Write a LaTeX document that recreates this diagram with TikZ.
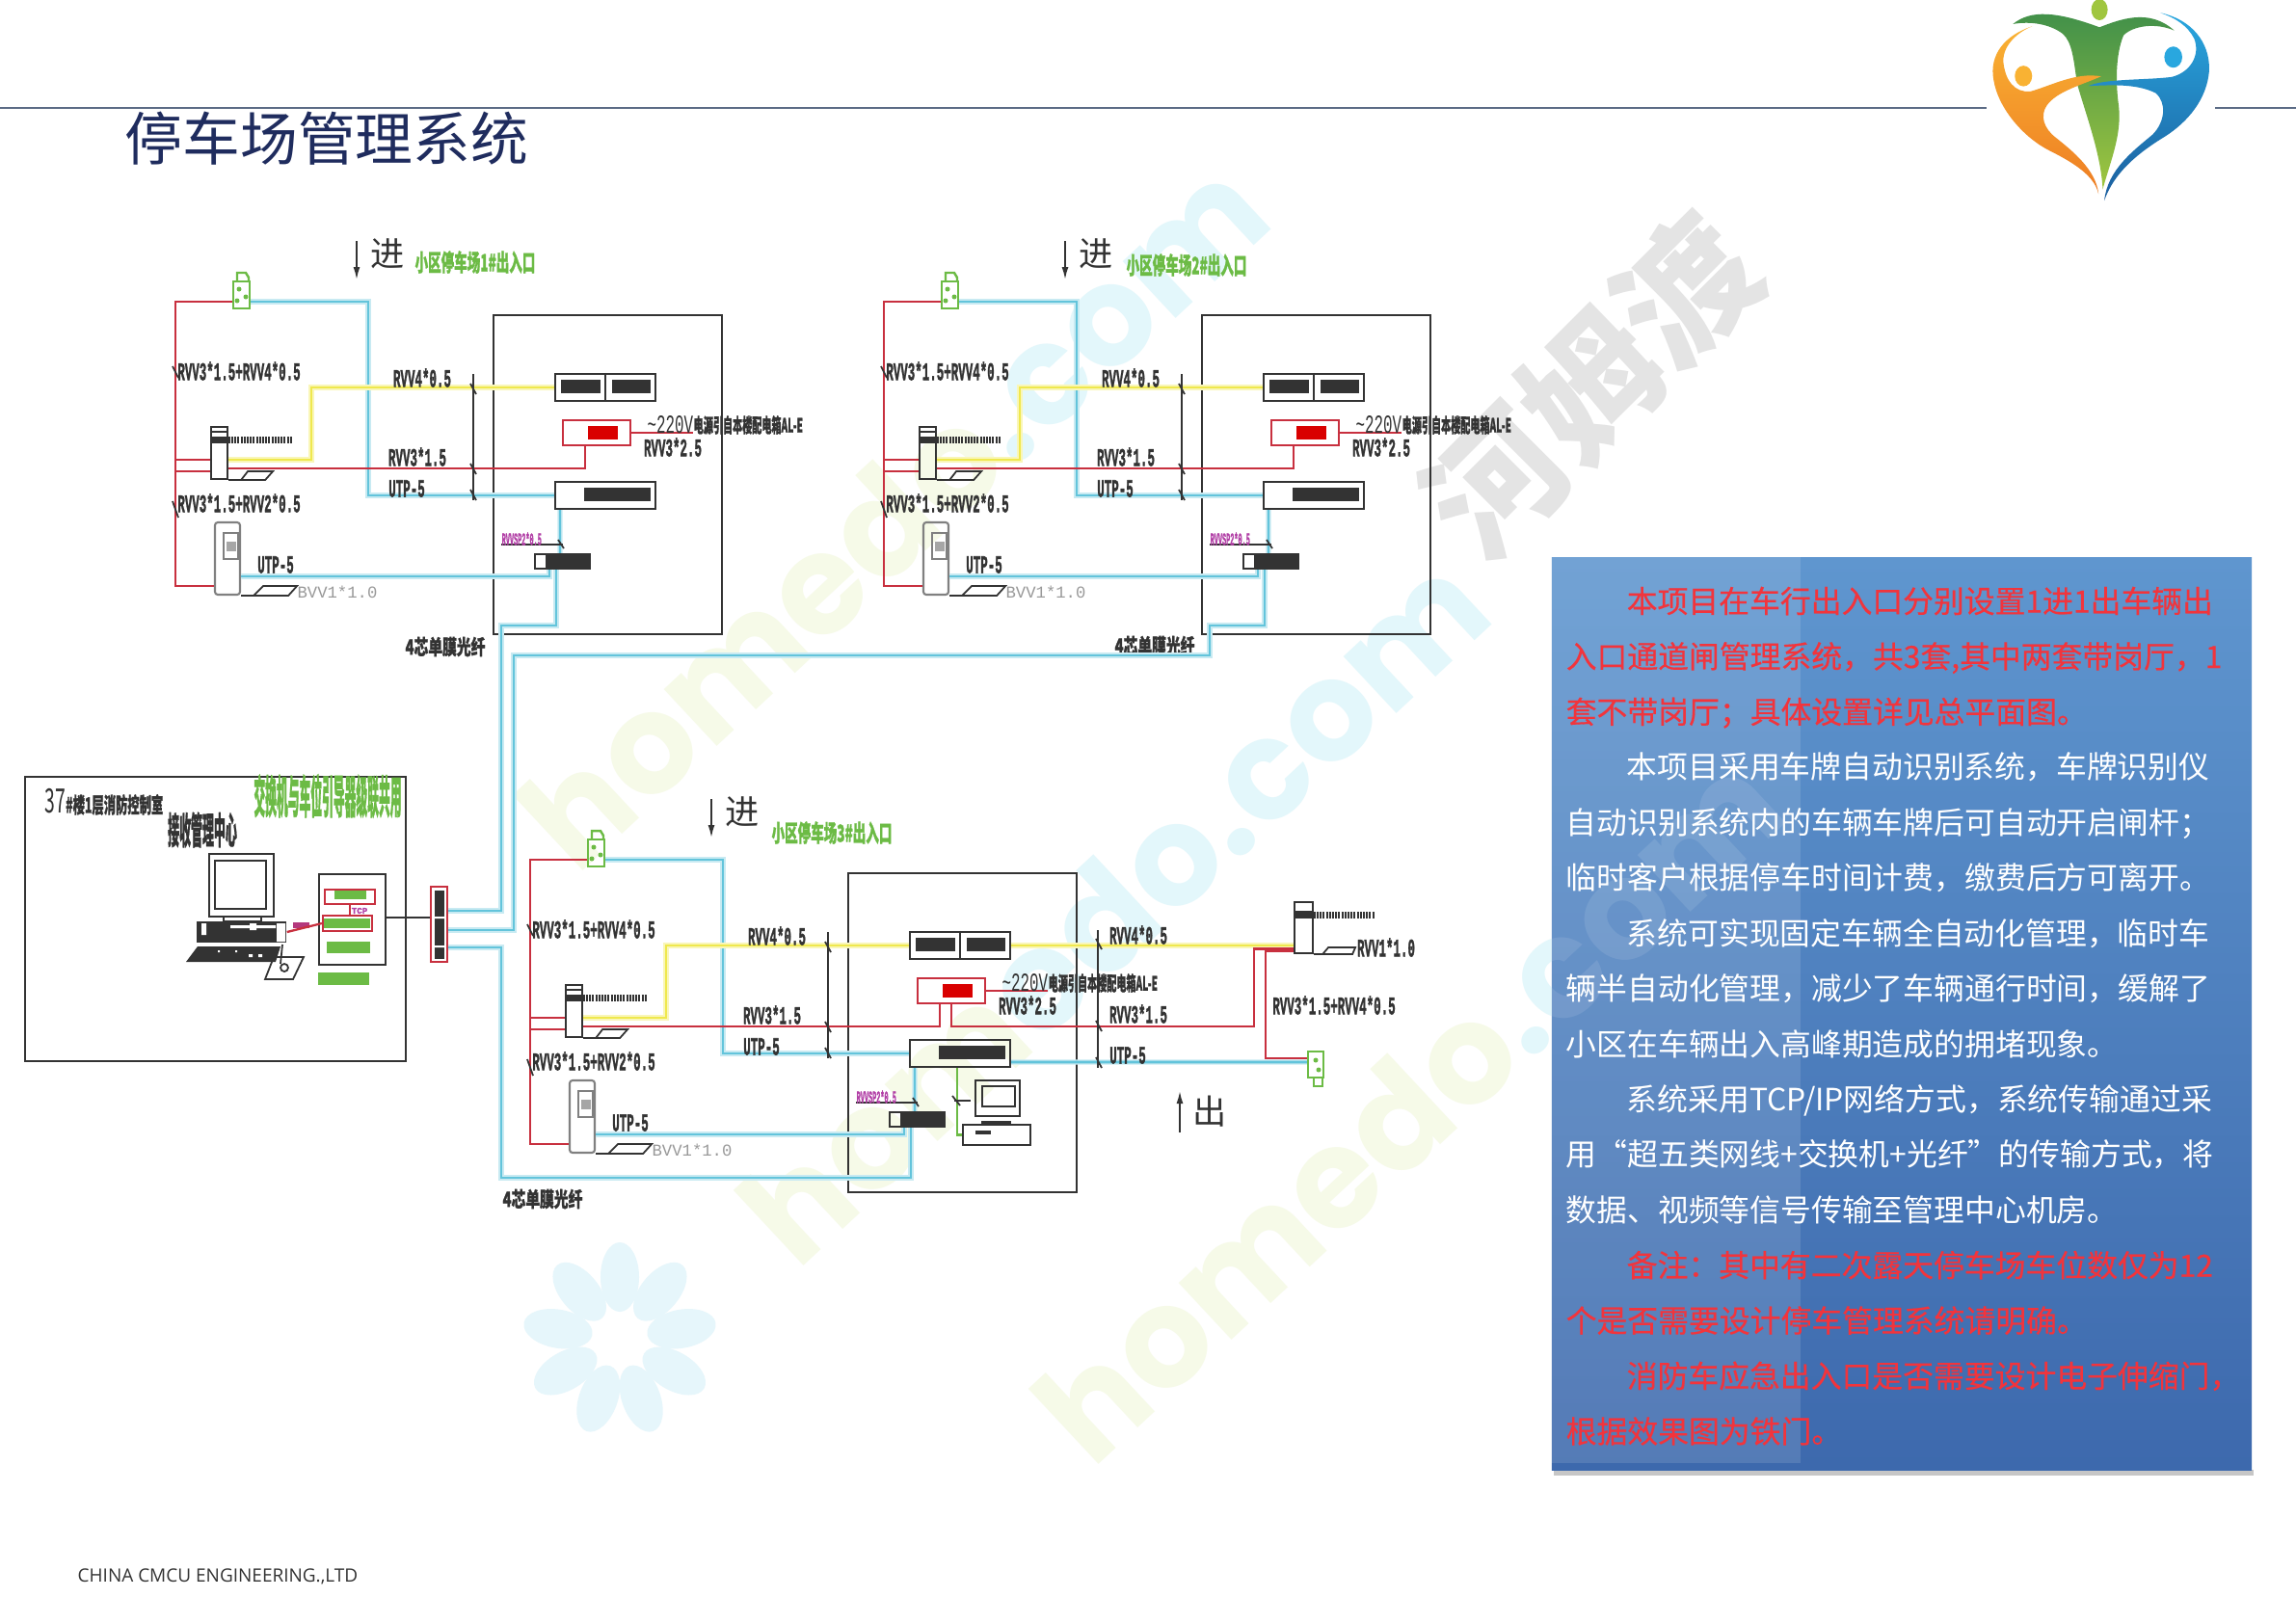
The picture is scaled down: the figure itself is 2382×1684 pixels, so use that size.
\documentclass[tikz,border=0pt]{standalone}
\usepackage{fontspec}
\newfontfamily\cjk{Noto Sans CJK SC}[BoldFeatures={FakeBold=1.5}]
\newfontfamily\cjkplain{Noto Sans CJK SC}
\newfontfamily\cjkred{Noto Sans CJK SC}[FakeBold=.4]
\newfontfamily\cadfont{Liberation Mono}[BoldFeatures={FakeBold=2}]
\newfontfamily\markfont{Poppins}
\newfontfamily\footfont{Open Sans}
\usetikzlibrary{calc,arrows.meta,positioning,shapes.geometric}
\definecolor{darkline}{HTML}{333333}
\definecolor{redline}{HTML}{C8303F}
\definecolor{blueline}{HTML}{63C4DB}
\definecolor{yellowline}{HTML}{EFE84E}
\definecolor{greenline}{HTML}{6CBB45}
\definecolor{pinkline}{HTML}{B23FA6}
\definecolor{navytext}{HTML}{1F2C5E}
\definecolor{rulecol}{HTML}{5B6B85}
\definecolor{notered}{HTML}{F2343C}
\definecolor{wmgreen}{HTML}{F6FAE8}
\definecolor{wmcyan}{HTML}{E3F7FB}
\definecolor{wmgrey}{HTML}{E4E4E4}
\definecolor{wmblue}{HTML}{E6F6FB}
\definecolor{paneltop}{HTML}{5F96CF}
\definecolor{panelend}{HTML}{3D69AD}
\definecolor{logogreenA}{HTML}{3F8F4A}
\definecolor{logogreenB}{HTML}{A0C63F}
\definecolor{logoorangeA}{HTML}{F9B233}
\definecolor{logoorangeB}{HTML}{EE7D23}
\definecolor{logoblueA}{HTML}{29A7DF}
\definecolor{logoblueB}{HTML}{1B5E9E}

\begin{document}
\begin{tikzpicture}[x=0.01cm, y=-0.01cm, >=Latex, line/.style={line width=.6pt}]
% Define styles for boxes, wires and labels
\tikzstyle{devicebox} = [draw=darkline, rectangle, inner sep=0, line width=.6pt]
\tikzstyle{blackbar} = [fill=darkline, rectangle, inner sep=0]
\tikzstyle{redbox} = [draw=redline, rectangle, inner sep=0, line width=.6pt]
\tikzstyle{redfill} = [fill=red!85!black, rectangle, inner sep=0]
\tikzstyle{greenfill} = [fill=greenline, rectangle, inner sep=0]
\tikzstyle{greybox} = [draw=gray, rectangle, inner sep=0, line width=.5pt]
\tikzstyle{redwire} = [draw=redline, line width=.65pt]
\tikzstyle{bluewire} = [draw=blueline, line width=.8pt, preaction={draw=blueline!35, line width=1.5pt}]
\tikzstyle{yellowwire} = [draw=yellowline, line width=.8pt, preaction={draw=yellowline!40, line width=1.5pt}]
\tikzstyle{greenwire} = [draw=greenline, line width=.65pt]
\tikzstyle{cable} = [draw=darkline, line width=.5pt]
\tikzstyle{cadlabel} = [font=\cadfont\bfseries\fontsize{3.55}{4}\selectfont, text=darkline, inner sep=0, transform shape, yscale=2.1]
\tikzstyle{cjklabel} = [font=\cjk\bfseries\fontsize{4.2}{5}\selectfont, text=darkline, inner sep=0, transform shape, yscale=1.45]
\tikzstyle{greenlabel} = [font=\cjk\bfseries\fontsize{3.85}{5}\selectfont, text=greenline, inner sep=0, transform shape, yscale=1.8]
\tikzstyle{pinklabel} = [font=\cadfont\bfseries\fontsize{1.95}{3}\selectfont, text=pinkline, inner sep=0, transform shape, yscale=2.6]
\tikzstyle{greylabel} = [font=\cadfont\fontsize{4.9}{5}\selectfont, text=gray!80, inner sep=0]
\tikzstyle{dirlabel} = [font=\cjkplain\fontsize{10}{10}\selectfont, text=darkline, inner sep=0]
\tikzstyle{watermark} = [font=\markfont\bfseries\fontsize{41}{44}\selectfont, inner sep=0, rotate=43]

\useasboundingbox (0,0) rectangle (2382,1684);
\fill[white] (0,0) rectangle (2382,1684);

% Watermarks behind everything
\node [watermark] (markone) at (926,532) {\color{wmgreen}homedo\color{wmcyan}.com};
\node [watermark] (marktwo) at (1155,942) {\color{wmgreen}hom\color{wmcyan}edo.com};
\node [watermark] (markthree) at (1460,1148) {\color{wmgreen}homedo\color{wmcyan}.com};
\node [font=\cjkplain\bfseries\fontsize{40}{40}\selectfont, text=wmgrey, inner sep=0, rotate=45] (markname) at (1650,400) {河姆渡};
\foreach \a in {0,40,...,320}
  \fill[wmblue, rotate around={\a:(643,1390)}] (643,1325) ellipse [x radius=.20cm, y radius=.36cm];

% Header
\coordinate (ruleA) at (0,112);
\coordinate (ruleB) at (2061,112);
\coordinate (ruleC) at (2298,112);
\coordinate (ruleD) at (2382,112);
\draw[rulecol, line width=.5pt] (ruleA) -- (ruleB);
\draw[rulecol, line width=.5pt] (ruleC) -- (ruleD);
\node [font=\cjkplain\fontsize{17}{17}\selectfont, text=navytext, anchor=west, inner sep=0] (title) at (129,144) {停车场管理系统};

% Logo
\begin{scope}[shift={(2040,0)}, x=0.00333cm, y=-0.00333cm]
\shade[top color=logogreenA, bottom color=logogreenB] (145,75) .. controls (200,30) and (280,35) .. (415,85) .. controls (480,60) and (570,25) .. (648,95) .. controls (590,70) and (520,80) .. (490,110) .. controls (465,170) and (465,260) .. (475,330) .. controls (485,420) and (450,500) .. (425,590) .. controls (420,480) and (370,350) .. (345,260) .. controls (335,190) and (330,130) .. (300,105) .. controls (260,75) and (200,65) .. (145,75);
\fill[logogreenB] (415,30) ellipse [x radius=.085cm, y radius=.11cm];
\shade[top color=logoorangeA, bottom color=logoorangeB] (205,82) .. controls (120,110) and (70,170) .. (85,250) .. controls (100,340) and (180,430) .. (260,470) .. controls (340,510) and (400,550) .. (412,605) .. controls (405,530) and (330,470) .. (280,430) .. controls (240,400) and (230,360) .. (250,330) .. controls (280,285) and (360,265) .. (420,238) .. controls (340,225) and (270,265) .. (200,285) .. controls (150,290) and (120,250) .. (115,190) .. controls (115,140) and (160,100) .. (205,82);
\fill[logoorangeA] (178,237) ellipse [x radius=.09cm, y radius=.107cm];
\shade[top color=logoblueA, bottom color=logoblueB] (605,40) .. controls (700,60) and (760,130) .. (757,220) .. controls (750,310) and (690,380) .. (620,425) .. controls (530,480) and (460,540) .. (430,625) .. controls (440,530) and (520,470) .. (580,420) .. controls (620,380) and (625,320) .. (590,290) .. controls (530,260) and (450,265) .. (380,268) .. controls (430,245) and (560,250) .. (640,240) .. controls (700,225) and (730,170) .. (710,120) .. controls (690,80) and (650,55) .. (605,40);
\fill[logoblueA] (645,178) ellipse [x radius=.093cm, y radius=.11cm];
\end{scope}

% Notes panel
\fill[gray!45] (1612,1525) rectangle (2338,1531);
\node [rectangle, inner sep=0, minimum width=7.26cm, minimum height=9.46cm, top color=paneltop, bottom color=panelend] (panel) at (1973,1052) {};
\begin{scope}
\clip (panel.north west) rectangle (panel.south east);
\node [watermark, text=white, opacity=.10] (markpanel) at (1460,1148) {homedo.com};
\end{scope}
\coordinate (bandend) at (1868,1518);
\fill[white, opacity=.12] (panel.north west) rectangle (bandend);
\node [font=\cjkplain\fontsize{9.05}{16.33}\selectfont, text=white, anchor=north west, align=left, inner sep=0] (notes) at (1624,608) {%
\color{notered}\cjkred\hspace*{.63cm}本项目在车行出入口分别设置1进1出车辆出\\
\color{notered}\cjkred 入口通道闸管理系统，共3套,其中两套带岗厅，1\\
\color{notered}\cjkred 套不带岗厅；具体设置详见总平面图。\\
\hspace*{.63cm}本项目采用车牌自动识别系统，车牌识别仪\\
自动识别系统内的车辆车牌后可自动开启闸杆；\\
临时客户根据停车时间计费，缴费后方可离开。\\
\hspace*{.63cm}系统可实现固定车辆全自动化管理，临时车\\
辆半自动化管理，减少了车辆通行时间，缓解了\\
小区在车辆出入高峰期造成的拥堵现象。\\
\hspace*{.63cm}系统采用TCP/IP网络方式，系统传输通过采\\
用“超五类网线+交换机+光纤”的传输方式，将\\
数据、视频等信号传输至管理中心机房。\\
\color{notered}\cjkred\hspace*{.63cm}备注：其中有二次露天停车场车位数仅为12\\
\color{notered}\cjkred 个是否需要设计停车管理系统请明确。\\
\color{notered}\cjkred\hspace*{.63cm}消防车应急出入口是否需要设计电子伸缩门，\\
\color{notered}\cjkred 根据效果图为铁门。};

% Footer
\node [font=\footfont\fontsize{5.4}{6}\selectfont, text=darkline, anchor=west, inner sep=0] (footer) at (80,1636) {CHINA CMCU ENGINEERING.,LTD};

% The three gates
\foreach \s/\dx/\dy in {a/0/0,b/735/0,c/368/579} {
\begin{scope}[shift={(\dx,\dy)}]
% Nodes placement
\node [devicebox, minimum width=2.37cm, minimum height=3.31cm] (booth\s) at (630.5,492.5) {};
\node [devicebox, minimum width=1.04cm, minimum height=.28cm] (screen\s) at (628,402) {};
\node [blackbar, minimum width=.41cm, minimum height=.14cm] (screenL\s) at (602.5,401) {};
\node [blackbar, minimum width=.40cm, minimum height=.14cm] (screenR\s) at (655,401) {};
\node [redbox, minimum width=.70cm, minimum height=.26cm] (power\s) at (619,449) {};
\node [redfill, minimum width=.31cm, minimum height=.14cm] (powerlamp\s) at (625.5,449) {};
\node [devicebox, minimum width=1.04cm, minimum height=.28cm] (switch\s) at (628,514) {};
\node [blackbar, minimum width=.69cm, minimum height=.14cm] (switchbar\s) at (640.5,513) {};
\node [devicebox, minimum width=.57cm, minimum height=.15cm] (reader\s) at (583.5,582.5) {};
\node [blackbar, minimum width=.46cm, minimum height=.15cm] (readerbar\s) at (589,582.5) {};

\node [devicebox, minimum width=.17cm, minimum height=.54cm] (post\s) at (227.5,470) {};
\node [blackbar, minimum width=.17cm, minimum height=.07cm] (band\s) at (227.5,456.5) {};
\node [devicebox, minimum width=.17cm, minimum height=.05cm] (cap\s) at (227.5,445.5) {};
\node [devicebox, draw=gray, rounded corners=.03cm, minimum width=.26cm, minimum height=.75cm] (kiosk\s) at (236,579.5) {};
\node [greybox, minimum width=.15cm, minimum height=.27cm] (kioskpanel\s) at (239.5,566.5) {};
\node [blackbar, fill=gray!70, minimum width=.10cm, minimum height=.10cm] (kioskscreen\s) at (240,567) {};
\node [draw=greenline, line width=.7pt, rectangle, inner sep=0, minimum width=.17cm, minimum height=.28cm] (light\s) at (250.5,306) {};

% Hand drawn parts of the devices
\draw[cable] (screen\s.north) -- (screen\s.south);
\draw[darkline, line width=.07cm, dash pattern=on .02cm off .012cm] (band\s.east) -- ++(66,0);
\draw[cable] (post\s.south east) -- ++(13,0) -- ++(25,0) -- ++(8,-9) -- ++(-26,0) -- ++(-7,9);
\draw[cable] (kiosk\s.south east) -- ++(13,0) -- ++(36,0) -- ++(9,-10) -- ++(-35,0) -- ++(-10,10);
\draw[greenline, line width=.7pt] (246,292) -- (246,283) -- (255,283) -- (258,288) -- (258,292);
\fill[greenline] (248,300) circle (.025cm) (246,312) circle (.025cm) (255,308) circle (.025cm);

% Bends of the wires
\coordinate (rail\s) at (182,400);
\coordinate (trunk\s) at (382,400);
\coordinate (riser\s) at (323,440);
\coordinate (mains\s) at (719,449);
\coordinate (bundletop\s) at (491,388);
\coordinate (bundleend\s) at (491,519);
\coordinate (pinkend\s) at (520,565);
\coordinate (pinktick\s) at (584,565);

% Draw edges
\draw[bluewire] ([yshift=-.07cm]light\s.east) -| (trunk\s) |- (switch\s.west);
\draw[yellowwire] ([yshift=-.07cm]post\s.east) -| (riser\s) |- (screen\s.west);
\draw[redwire] ([yshift=-.07cm]light\s.west) -| (rail\s) |- ([yshift=-.07cm]post\s.west);
\draw[redwire] ([yshift=-.19cm]post\s.west) -| (rail\s) |- ([yshift=-.285cm]kiosk\s.west);
\draw[redwire] ([yshift=-.16cm]post\s.east) -| ([xshift=-.12cm]power\s.south);
\draw[redwire] (power\s.east) -- (mains\s);
\draw[bluewire] ([yshift=-.185cm]kiosk\s.east) -| ([xshift=-.135cm]reader\s.south);
\draw[bluewire, line width=.6pt] ([xshift=-.47cm]switch\s.south) -- ([xshift=-.025cm]reader\s.north);
\draw[cable] (bundletop\s) -- (bundleend\s);
\foreach \y in {403,486,513}
  \draw[cable] (488,\y-5) -- (494,\y+6);
\draw[cable] (179,380) -- (185,392);
\draw[cable] (179,520) -- (185,537);
\draw[cable] (pinkend\s) -- (pinktick\s);
\draw[cable] (579,560) -- (585,569);

% Labels
\node [cadlabel] (railtop\s) at (248,385) {RVV3*1.5+RVV4*0.5};
\node [cadlabel] (railend\s) at (248,522) {RVV3*1.5+RVV2*0.5};
\node [cadlabel] (wireY\s) at (438,392) {RVV4*0.5};
\node [cadlabel] (wireR\s) at (433,474) {RVV3*1.5};
\node [cadlabel] (wireB\s) at (422,507) {UTP-5};
\node [cadlabel] (kioskutp\s) at (286,586) {UTP-5};
\node [cadlabel] (mainslabel\s) at (698,464) {RVV3*2.5};
\node [greylabel] (loopV\s) at (350,614) {BVV1*1.0};
\node [pinklabel, anchor=west] (pink\s) at (520,559) {RVVSP2*0.5};
\node [font=\cadfont\fontsize{4.5}{6}\selectfont, text=darkline, inner sep=0, anchor=west, transform shape, yscale=1.7] (acvolt\s) at (671,441) {\textasciitilde220V};
\node [font=\cjk\bfseries\fontsize{2.87}{4}\selectfont, text=darkline, inner sep=0, anchor=west, transform shape, yscale=2] (acnote\s) at (719,441) {电源引自本楼配电箱AL-E};
% Direction of travel
\coordinate (dirtop\s) at (370,250);
\coordinate (dirend\s) at (370,290);
\draw[cable, -{Latex[length=.13cm,width=.07cm]}] (dirtop\s) -- (dirend\s);
\node [dirlabel] (dir\s) at (402,263) {进};
\end{scope}
}

% Labels placed per gate
\node [greenlabel] (namea) at (493,272) {小区停车场1\#出入口};
\node [greenlabel] (nameb) at (1231,275) {小区停车场2\#出入口};
\node [greenlabel] (namec) at (863,864) {小区停车场3\#出入口};
\node [cjklabel] (fibrea) at (462,671) {4芯单膜光纤};
\node [cjklabel] (fibreb) at (1198,670) {4芯单膜光纤};
\node [cjklabel] (fibrec) at (563,1244) {4芯单膜光纤};

% Control room
\node [devicebox, minimum width=3.95cm, minimum height=2.95cm] (room) at (223.5,953.5) {};
\node [font=\cjk\bfseries\fontsize{3.5}{5}\selectfont, text=darkline, inner sep=0, transform shape, yscale=1.8] (roomname) at (108,832) {{\cjkplain\mdseries\fontsize{5.5}{5}\selectfont 37}\#楼1层消防控制室};
\node [cjklabel, font=\cjk\bfseries\fontsize{3.4}{6}\selectfont, yscale=2.2] (center) at (210,861) {接收管理中心};
\node [greenlabel, font=\cjk\bfseries\fontsize{3.35}{6}\selectfont, yscale=2.2] (stacknote) at (340,826) {交换机与车位引导器级联共用};

\node [devicebox, minimum width=.67cm, minimum height=.65cm] (monitor) at (250.5,918.5) {};
\node [devicebox, minimum width=.53cm, minimum height=.50cm] (monitorglass) at (249.5,918) {};
\node [devicebox, minimum width=.39cm, minimum height=.05cm] (monitorstand) at (251.5,953.5) {};
\node [blackbar, minimum width=.93cm, minimum height=.22cm] (pccase) at (250.5,967) {};
\fill[white] (209,958) rectangle (214,970) (239,960) rectangle (286,963) (259,958) rectangle (266,965) (287,958) rectangle (296,977);
\fill[darkline] (205,982) -- (291,982) -- (286,998) -- (193,998) -- cycle;
\fill[white] (226,986) rectangle (228,988) (244,986) rectangle (246,988) (258,990) rectangle (262,993) (268,990) rectangle (272,993);
\draw[cable] (284,993) -- (315,993) -- (304,1016) -- (275,1016) -- cycle;
\draw[cable] (295,1004) circle (.04cm);
\draw[cable] (293,980) -- (291,1000);

\node [devicebox, minimum width=.69cm, minimum height=.94cm] (rack) at (365.5,954) {};
\node [redbox, minimum width=.52cm, minimum height=.15cm] (rackA) at (363,930.5) {};
\node [greenfill, minimum width=.33cm, minimum height=.09cm] (rackAfill) at (363.5,928.5) {};
\node [redbox, minimum width=.51cm, minimum height=.16cm] (rackB) at (360.5,958) {};
\node [greenfill, minimum width=.48cm, minimum height=.10cm] (rackBfill) at (360,958) {};
\node [greenfill, minimum width=.45cm, minimum height=.12cm] (rackC) at (361.5,983) {};
\node [greenfill, minimum width=.53cm, minimum height=.13cm] (rackD) at (356.5,1015.5) {};
\node [font=\cadfont\bfseries\fontsize{2.6}{3}\selectfont, text=pinkline, inner sep=0] (rackTag) at (373,945) {TCP};
\node [fill=magenta!70!black, rectangle, inner sep=0, minimum width=.17cm, minimum height=.06cm] (modem) at (312.5,960) {};

\draw[redwire] (pccase.east) -- (rackB.west);
\draw[redwire] (rackA.south) -- (rackA.south |- rackB.north);

\node [redbox, minimum width=.17cm, minimum height=.78cm] (core) at (455.5,959) {};
\node [blackbar, minimum width=.10cm, minimum height=.71cm] (coreinner) at (456,959.5) {};
\fill[white] (451,951) rectangle (461,953) (451,981) rectangle (461,983);
\draw[cable] ([yshift=.02cm]rack.east) -- ([yshift=.07cm]core.west);

% Fibre from the gates back to the core switch
\coordinate (fibreA) at (520,649);
\coordinate (fibreB) at (533,680);
\coordinate (fibreC) at (1255,649);
\coordinate (fibreD) at (520,1222);
\draw[bluewire] ([yshift=.14cm]core.east) -| (fibreA) -| ([xshift=-.065cm]readera.south);
\draw[bluewire] ([yshift=-.06cm]core.east) -| (fibreB) -| (fibreC) -| ([xshift=-.065cm]readerb.south);
\draw[bluewire] ([yshift=-.24cm]core.east) -| (fibreD) -| ([xshift=-.065cm]readerc.south);

% Exit side of gate c
\node [devicebox, minimum width=.19cm, minimum height=.53cm] (exitpost) at (1352.5,962.5) {};
\node [blackbar, minimum width=.19cm, minimum height=.08cm] (exitband) at (1352.5,949) {};
\node [draw=greenline, line width=.7pt, rectangle, inner sep=0, minimum width=.16cm, minimum height=.27cm] (exitlight) at (1365,1104.5) {};
\draw[greenline, line width=.7pt] (1363,1118) -- (1363,1127) -- (1372,1127) -- (1372,1118);
\fill[greenline] (1365,1100) circle (.025cm) (1368,1110) circle (.025cm);
\draw[darkline, line width=.07cm, dash pattern=on .02cm off .012cm] (exitband.east) -- ++(64,0);
\draw[cable] (exitpost.south east) -- ++(9,0) -- ++(31,0) -- ++(3,-7) -- ++(-28,0) -- ++(-6,7);

\coordinate (exitrail) at (1301,1065);
\coordinate (exitdrop) at (1313,1050);
\coordinate (exittop) at (1139,965);
\coordinate (exitend) at (1139,1108);
\draw[yellowwire] (screenc.east) -- (exitpost.west |- screenc.east);
\draw[redwire] (powerc.south) |- (exitrail) |- ([yshift=-.22cm]exitpost.west);
\draw[redwire] ([yshift=-.24cm]exitpost.west) -| (exitdrop) |- ([yshift=.065cm]exitlight.west);
\draw[bluewire] ([yshift=-.09cm]switchc.east) -- ([yshift=.025cm]exitlight.west);
\draw[cable] (exittop) -- (exitend);
\foreach \y in {979,1064,1102}
  \draw[cable] (1137,\y-5) -- (1143,\y+6);

\node [cadlabel] (exitY) at (1181,970) {RVV4*0.5};
\node [cadlabel] (exitR) at (1181,1052) {RVV3*1.5};
\node [cadlabel] (exitB) at (1170,1095) {UTP-5};
\node [cadlabel] (exitV) at (1438,983) {RVV1*1.0};
\node [cadlabel] (exitdroplabel) at (1384,1043) {RVV3*1.5+RVV4*0.5};
\coordinate (exitarrowA) at (1224,1175);
\coordinate (exitarrowB) at (1224,1132);
\draw[cable, -{Latex[length=.13cm,width=.07cm]}] (exitarrowA) -- (exitarrowB);
\node [dirlabel] (exitdir) at (1255,1153) {出};

% Control computer of gate c
\node [devicebox, minimum width=.46cm, minimum height=.37cm] (pcmonitor) at (1035,1139.5) {};
\node [devicebox, minimum width=.34cm, minimum height=.21cm] (pcglass) at (1036,1137.5) {};
\node [blackbar, minimum width=.31cm, minimum height=.04cm] (pcstand) at (1033.5,1165) {};
\node [devicebox, minimum width=.70cm, minimum height=.21cm] (pcbase) at (1034,1177.5) {};
\node [blackbar, minimum width=.16cm, minimum height=.04cm] (pcslot) at (1020,1175) {};
\draw[greenwire] ([xshift=-.03cm]switchc.south) |- (pcbase.west);
\draw[cable] (990,1142) -- (1007,1142);
\draw[cable] (988,1137) -- (996,1147);
\end{tikzpicture}
\end{document}
